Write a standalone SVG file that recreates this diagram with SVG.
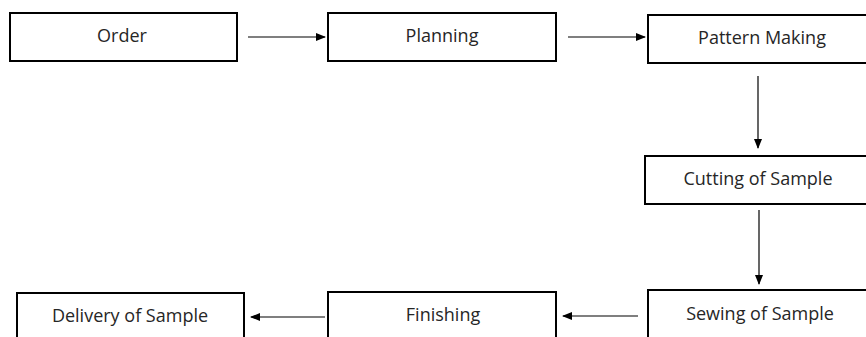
<svg xmlns="http://www.w3.org/2000/svg" width="866" height="337" viewBox="0 0 866 337">
<defs>
<marker id="ah" markerWidth="10" markerHeight="8" refX="9" refY="4" orient="auto" markerUnits="userSpaceOnUse">
<path d="M0,0 L10,4 L0,8 Z" fill="#000"/>
</marker>
<style>
.box{fill:#fff;stroke:#000;stroke-width:2}
.lbl{font-family:"Open Sans","Noto Sans",sans-serif;font-size:18px;fill:#262626;text-anchor:middle}
.con{stroke:#000;stroke-width:1.2;fill:none;marker-end:url(#ah)}
</style>
</defs>
<rect width="866" height="337" fill="#fff"/>
<g id="order"><rect class="box" x="10" y="13" width="227" height="48"/><text class="lbl" x="122" y="42">Order</text></g>
<g id="planning"><rect class="box" x="328" y="13" width="228" height="48"/><text class="lbl" x="442" y="42">Planning</text></g>
<g id="pattern"><rect class="box" x="648" y="15" width="230" height="48"/><text class="lbl" x="762" y="44">Pattern Making</text></g>
<g id="cutting"><rect class="box" x="645" y="156" width="233" height="48"/><text class="lbl" x="758" y="185">Cutting of Sample</text></g>
<g id="sewing"><rect class="box" x="648" y="290" width="230" height="60"/><text class="lbl" x="760" y="320">Sewing of Sample</text></g>
<g id="finishing"><rect class="box" x="328" y="292" width="228" height="60"/><text class="lbl" x="443" y="321">Finishing</text></g>
<g id="delivery"><rect class="box" x="17" y="293" width="227" height="60"/><text class="lbl" x="130" y="322">Delivery of Sample</text></g>
<g id="connectors">
<line class="con" x1="248" y1="37" x2="325" y2="37"/>
<line class="con" x1="568" y1="37" x2="645" y2="37"/>
<line class="con" x1="758" y1="76" x2="758" y2="148"/>
<line class="con" x1="759" y1="210" x2="759" y2="284"/>
<line class="con" x1="638" y1="316" x2="563" y2="316"/>
<line class="con" x1="325" y1="317" x2="251" y2="317"/>
</g>
</svg>
